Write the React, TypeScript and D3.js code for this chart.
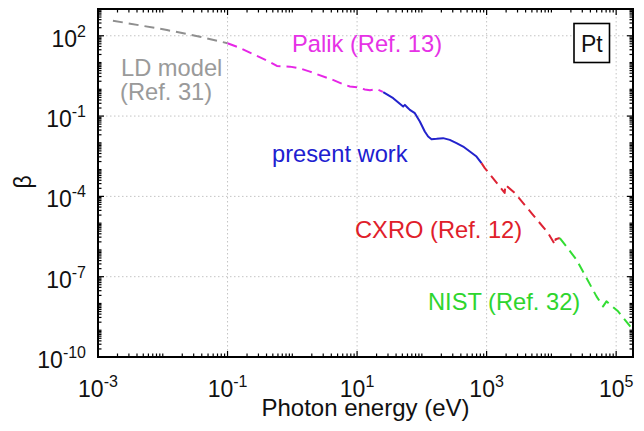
import React from "react";
import * as d3 from "d3";

// Absorption index beta of Pt versus photon energy, from several sources.
const ldModel: [number, number][] = [
  [1.7e-3, 366], [1.16e-2, 164], [3.75e-2, 92.5], [0.1, 52.5],
];
const palik: [number, number][] = [
  [0.1, 52.5], [0.155, 35.1], [0.265, 19.2], [0.451, 10.5], [0.578, 7.46],
  [0.918, 7.03], [1.31, 6.03], [1.87, 4.57], [4.24, 2.24], [6.49, 1.46],
  [7.74, 1.28], [9.93, 1.2], [13.2, 0.99], [15.8, 0.92], [20.2, 1.01], [25.0, 0.8],
];
const presentWork: [number, number][] = [
  [25.3, 0.78], [36.1, 0.466], [51.4, 0.226], [54.7, 0.262], [59.3, 0.215],
  [65.3, 0.17], [78, 0.128], [93.1, 0.0624], [111, 0.0264], [125, 0.0172],
  [141, 0.0137], [169, 0.0141], [213, 0.015], [270, 0.0129], [343, 0.00975],
  [434, 0.00728], [551, 0.00473], [698, 0.00308], [834, 0.00175],
];
const cxro: [number, number][] = [
  [834, 1.75e-3], [938, 1.14e-3], [1900, 1.35e-4], [1950, 2.7e-4],
  [2720, 1.33e-4], [4930, 2.38e-5], [8890, 4.28e-6], [11400, 1.55e-6],
  [11600, 2.5e-6], [13490, 2.78e-6],
];
const nist: [number, number][] = [
  [13490, 2.78e-6], [24400, 4.3e-7], [49700, 1.84e-8], [62800, 7.8e-9],
  [70800, 1.2e-8], [107000, 5.07e-9], [182000, 1.05e-9],
];

const xTickExps = [-3, -1, 1, 3, 5];
const yTickExps = [2, -1, -4, -7, -10];

const FONT = "'Liberation Sans', Arial, Helvetica, sans-serif";

export default function App() {
  const left = 98, right = 633, top = 9, bottom = 357;
  const x = d3.scaleLog().domain([1e-3, Math.pow(10, 5.26)]).range([left, right]);
  const y = d3.scaleLog().domain([1e-10, 1e3]).range([bottom, top]);
  const line = d3.line<[number, number]>().x((d) => x(d[0])).y((d) => y(d[1]));

  // minor + major tick positions
  const xTicks: { v: number; major: boolean }[] = [];
  for (let e = -3; e <= 5; e++) {
    for (let m = 1; m <= 9; m++) {
      const v = m * Math.pow(10, e);
      if (v > x.domain()[1]) break;
      xTicks.push({ v, major: m === 1 && xTickExps.includes(e) });
    }
  }
  const yTicks: { v: number; major: boolean }[] = [];
  for (let e = -10; e <= 2; e++) {
    for (let m = 1; m <= 9; m++) {
      yTicks.push({ v: m * Math.pow(10, e), major: m === 1 && yTickExps.includes(e) });
    }
  }
  yTicks.push({ v: 1e3, major: false });

  const series = [
    { data: ldModel, color: "#8f8f8f", dash: "10,6", solid: false },
    { data: palik, color: "#e626e6", dash: "10,6", solid: false },
    { data: presentWork, color: "#2222cc", dash: "", solid: true },
    { data: cxro, color: "#dd2233", dash: "10,6", solid: false },
    { data: nist, color: "#33dd33", dash: "10,6", solid: false },
  ];

  const gridColor = "#c4c4c4";

  return (
    <svg width={644} height={431} style={{ position: "absolute", left: 0, top: 0 }} fontFamily={FONT}>
      <rect x={0} y={0} width={644} height={431} fill="#fff" />
      <defs>
        <clipPath id="plotClip">
          <rect x={left} y={top} width={right - left} height={bottom - top} />
        </clipPath>
      </defs>

      {/* grid */}
      {xTickExps.slice(1).map((e) => (
        <line key={"gx" + e} x1={x(Math.pow(10, e))} x2={x(Math.pow(10, e))} y1={top} y2={bottom}
          stroke={gridColor} strokeWidth={1} strokeDasharray="1.5,2.5" />
      ))}
      {yTickExps.slice(0, -1).map((e) => (
        <line key={"gy" + e} x1={left} x2={right} y1={y(Math.pow(10, e))} y2={y(Math.pow(10, e))}
          stroke={gridColor} strokeWidth={1} strokeDasharray="1.5,2.5" />
      ))}

      {/* data */}
      <g clipPath="url(#plotClip)" fill="none">
        {series.map((s, i) => (
          <path key={i} d={line(s.data) || ""} stroke={s.color} strokeWidth={2}
            strokeDasharray={s.solid ? undefined : s.dash} strokeLinejoin="round" />
        ))}
      </g>

      {/* ticks on all four sides, pointing inward */}
      <g stroke="#000" strokeWidth={1.2}>
        {xTicks.map((t, i) => {
          const len = t.major ? 6 : 3.5;
          const px = x(t.v);
          return (
            <g key={"xt" + i}>
              <line x1={px} x2={px} y1={bottom} y2={bottom - len} />
              <line x1={px} x2={px} y1={top} y2={top + len} />
            </g>
          );
        })}
        {yTicks.map((t, i) => {
          const len = t.major ? 6 : 3.5;
          const py = y(t.v);
          return (
            <g key={"yt" + i}>
              <line x1={left} x2={left + len} y1={py} y2={py} />
              <line x1={right} x2={right - len} y1={py} y2={py} />
            </g>
          );
        })}
      </g>
      <rect x={left} y={top} width={right - left} height={bottom - top} fill="none" stroke="#000" strokeWidth={2} />

      {/* tick labels */}
      <g fontSize={23} fill="#111">
        {xTickExps.map((e) => (
          <text key={"xl" + e} x={x(Math.pow(10, e))} y={397} textAnchor="middle">
            10<tspan fontSize={16} dy={-10}>{e < 0 ? "-" + Math.abs(e) : String(e)}</tspan>
          </text>
        ))}
        {yTickExps.map((e) => (
          <text key={"yl" + e} x={86} y={y(Math.pow(10, e)) + 11} textAnchor="end">
            10<tspan fontSize={16} dy={-10}>{e < 0 ? "-" + Math.abs(e) : String(e)}</tspan>
          </text>
        ))}
      </g>

      {/* axis titles */}
      <text x={(left + right) / 2} y={416} textAnchor="middle" fontSize={24} fill="#111">Photon energy (eV)</text>
      <text transform="translate(31,182) rotate(-90)" textAnchor="middle" fontSize={23} fill="#111">β</text>

      {/* series annotations */}
      <g fontSize={23.7}>
        <text x={121} y={76} fill="#9a9a9a">LD model</text>
        <text x={120} y={100} fill="#9a9a9a">(Ref. 31)</text>
        <text x={292} y={52} fill="#e632e6">Palik (Ref. 13)</text>
        <text x={272} y={162} fill="#2020d0">present work</text>
        <text x={355} y={238} fill="#e0202a">CXRO (Ref. 12)</text>
        <text x={428} y={310} fill="#2ed52e">NIST (Ref. 32)</text>
      </g>

      {/* element box */}
      <rect x={574} y={23.5} width={35.5} height={39} fill="#fff" stroke="#000" strokeWidth={1.6} />
      <text x={591.8} y={51.5} textAnchor="middle" fontSize={23} fill="#111">Pt</text>
    </svg>
  );
}
